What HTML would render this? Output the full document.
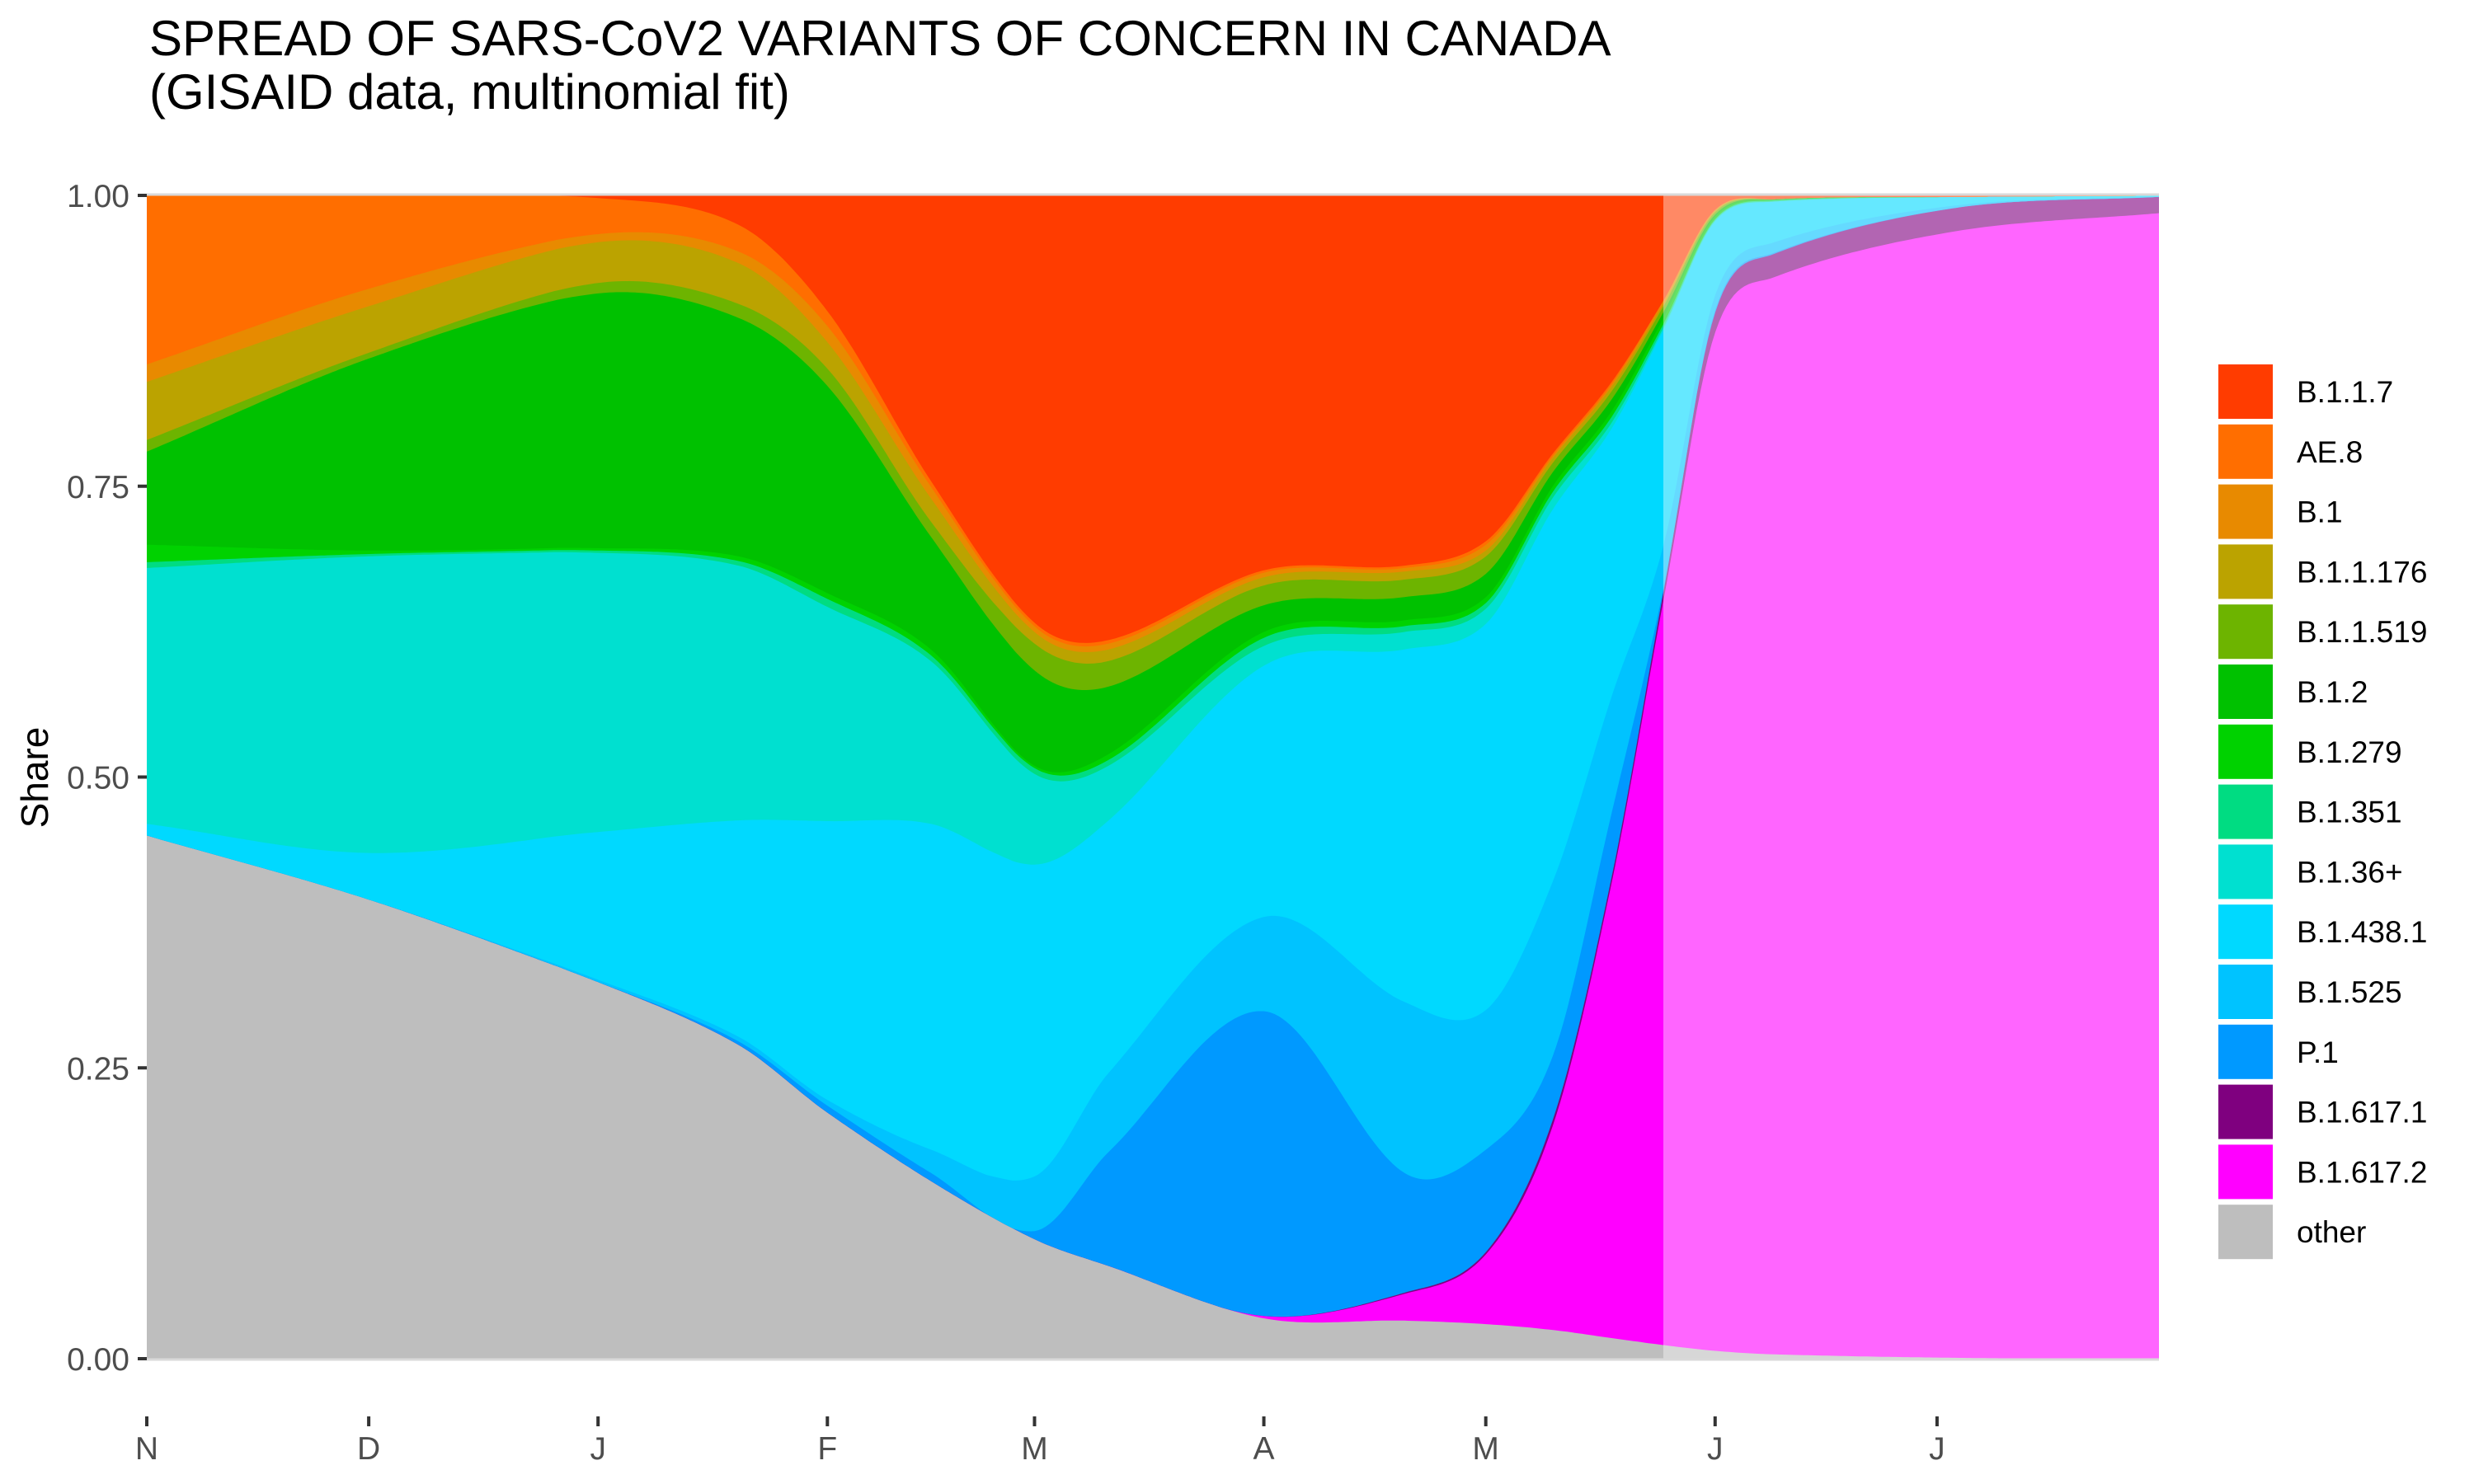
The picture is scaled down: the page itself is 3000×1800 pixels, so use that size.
<!DOCTYPE html>
<html><head><meta charset="utf-8">
<style>
html,body{margin:0;padding:0;background:#fff;}
svg{display:block;font-family:"Liberation Sans",Arial,sans-serif;}
</style></head>
<body>
<svg id="chart" width="3000" height="1800" viewBox="0 0 3000 1800" xmlns="http://www.w3.org/2000/svg">
  <rect x="0" y="0" width="3000" height="1800" fill="#fff"/>
  <text x="181" y="67" font-size="60" fill="#000">SPREAD OF SARS-CoV2 VARIANTS OF CONCERN IN CANADA</text>
  <text x="181" y="132" font-size="60" fill="#000">(GISAID data, multinomial fit)</text>
  <text transform="translate(58,943) rotate(-90)" text-anchor="middle" font-size="46" fill="#000">Share</text>
  <g id="plot"></g>
  <g id="axes"></g>
  <g id="legend"></g>
</svg>
<script>
// Data: days since Nov 1 2020 and per-variant shares (stack order bottom -> top)
const days = [0,30,61,80,92,106,120,130,151,170,181,190,198,205,212,220,245,272];
const other   = [.45,.395,.324,.27,.214,.153,.103,.08,.035,.033,.03,.025,.018,.012,.007,.004,.001,0];
const b16172  = [0,0,0,0,0,0,0,0,.002,.023,.06,.175,.392,.641,.876,.926,.969,.985];
const b16171  = [0,0,0,0,0,0,0,0,0,.001,.002,.005,.005,.007,.017,.02,.02,.014];
const p1      = [0,0,0,.003,.006,.007,.007,.098,.262,.103,.088,.055,.055,.003,.002,.001,0,0];
const b1525   = [0,0,.002,.004,.005,.02,.047,.068,.081,.147,.12,.15,.10,.037,.013,.009,.002,0];
const b14381  = [.01,.04,.127,.186,.242,.28,.268,.217,.216,.303,.332,.32,.23,.185,.063,.035,.007,.001];
const b136    = [.22,.255,.24,.219,.186,.14,.078,.047,.017,.015,.013,.01,.005,.002,.001,0,0,0];
const b1351   = [.005,.002,.002,.004,.007,.005,.005,.005,.007,.005,.005,.005,.005,.003,.001,.001,0,0];
const b1279   = [.015,.003,.002,.004,.005,.005,.002,.005,.005,.005,.005,.005,.005,.005,.002,0,0,0];
const b12     = [.08,.165,.219,.205,.18,.097,.082,.058,.023,.02,.02,.012,.01,.005,.002,.001,0,0];
const b11519  = [.01,.005,.009,.012,.015,.013,.023,.022,.017,.015,.015,.008,.007,.005,.002,0,0,0];
const b11176  = [.05,.04,.035,.035,.023,.02,.01,.01,.007,.007,.005,.004,.004,.002,.001,0,0,0];
const b1      = [.015,.015,.007,.01,.014,.01,.005,.005,.004,.003,.005,.002,.002,.003,.001,0,0,0];
const ae8     = [.145,.08,.031,.023,.013,.005,.003,.003,.002,.002,.003,.002,.002,0,0,0,0,0];
const b117    = [0,0,.002,.025,.1,.245,.367,.382,.322,.318,.297,.222,.16,.09,.012,.003,.001,0];
const seriesNames = ["other","B.1.617.2","B.1.617.1","P.1","B.1.525","B.1.438.1","B.1.36+","B.1.351","B.1.279","B.1.2","B.1.1.519","B.1.1.176","B.1","AE.8","B.1.1.7"];
const seriesVals = [other,b16172,b16171,p1,b1525,b14381,b136,b1351,b1279,b12,b11519,b11176,b1,ae8,b117];
const seriesColors = ["#bebebe","#ff00ff","#7f007f","#0099ff","#00c3ff","#00d9ff","#00e0d0","#00dc82","#00d200","#00c100","#6db400","#bba300","#e88a00","#ff6e00","#ff3c00"];
const yTicks = [0,0.25,0.5,0.75,1];
const yTickLabels = ["0.00","0.25","0.50","0.75","1.00"];
const xTickDays = [0,30,61,92,120,151,181,212,242];
const xTickLabels = ["N","D","J","F","M","A","M","J","J"];
const fadeDay = 205;
const legendOrder = ["B.1.1.7","AE.8","B.1","B.1.1.176","B.1.1.519","B.1.2","B.1.279","B.1.351","B.1.36+","B.1.438.1","B.1.525","P.1","B.1.617.1","B.1.617.2","other"];

const NS="http://www.w3.org/2000/svg";
const L=178,R=2618,T=237,B=1648, D0=0, D1=272;
const xs=d=>L+(d-D0)/(D1-D0)*(R-L);
const ys=v=>B-v*(B-T);

function interp(xv,yv,x){
  const n=xv.length;
  let i=0; while(i<n-2 && x>xv[i+1]) i++;
  const tan=j=>{ if(j===0) return (yv[1]-yv[0])/(xv[1]-xv[0]);
    if(j===n-1) return (yv[n-1]-yv[n-2])/(xv[n-1]-xv[n-2]);
    return (yv[j+1]-yv[j-1])/(xv[j+1]-xv[j-1]); };
  const h=xv[i+1]-xv[i], t=(x-xv[i])/h, t2=t*t, t3=t2*t;
  return (2*t3-3*t2+1)*yv[i]+(t3-2*t2+t)*h*tan(i)+(-2*t3+3*t2)*yv[i+1]+(t3-t2)*h*tan(i+1);
}
const plot=document.getElementById('plot');
const defs=document.createElementNS(NS,'defs');
defs.innerHTML=`<clipPath id="clipL"><rect x="${L}" y="${T}" width="${xs(fadeDay)-L}" height="${B-T}"/></clipPath><clipPath id="clipR"><rect x="${xs(fadeDay)}" y="${T}" width="${R-xs(fadeDay)}" height="${B-T}"/></clipPath>`;
plot.appendChild(defs);
const gL=document.createElementNS(NS,'g'); gL.setAttribute('clip-path','url(#clipL)');


const gR=document.createElementNS(NS,'g'); gR.setAttribute('clip-path','url(#clipR)'); gR.setAttribute('opacity','0.6');


plot.appendChild(gL); plot.appendChild(gR);

const sx=[]; for(let d=D0; d<=D1+0.001; d+=0.5) sx.push(d);
const sampled=seriesVals.map(v=>sx.map(d=>Math.max(0,interp(days,v,d))));
const totals=sx.map((d,j)=>sampled.reduce((a,s)=>a+s[j],0));
let cum=sx.map(()=>0);
seriesVals.forEach((vals,k)=>{
  const lo=cum.slice(); const hi=cum.map((c,j)=>c+sampled[k][j]/totals[j]); cum=hi;
  let d="M"+sx.map((x,j)=>xs(x).toFixed(1)+","+ys(hi[j]).toFixed(1)).join(" L");
  for(let j=sx.length-1;j>=0;j--) d+=" L"+xs(sx[j]).toFixed(1)+","+ys(lo[j]).toFixed(1);
  d+="Z";
  [gL,gR].forEach(g=>{
    const p=document.createElementNS(NS,'path');
    p.setAttribute('d',d); p.setAttribute('fill',seriesColors[k]);
    p.setAttribute('stroke',seriesColors[k]); p.setAttribute('stroke-width','0.8');
    
    
    g.appendChild(p);
  });
});
const axes=document.getElementById('axes');
[T,B].forEach(y=>{const l=document.createElementNS(NS,'line');
  l.setAttribute('x1',L);l.setAttribute('x2',R);l.setAttribute('y1',y+(y===T?-1:1));l.setAttribute('y2',y+(y===T?-1:1));
  l.setAttribute('stroke','#d9d9d9');l.setAttribute('stroke-width','3');
  
  
  axes.appendChild(l);});
yTicks.forEach((v,i)=>{
  const y=ys(v);
  const t=document.createElementNS(NS,'line');
  t.setAttribute('x1',167);t.setAttribute('x2',178);t.setAttribute('y1',y);t.setAttribute('y2',y);
  t.setAttribute('stroke','#333');t.setAttribute('stroke-width','4');
  
  
  axes.appendChild(t);
  const tx=document.createElementNS(NS,'text');
  tx.setAttribute('x',157);tx.setAttribute('y',y+14);tx.setAttribute('text-anchor','end');
  tx.setAttribute('font-size','39');tx.setAttribute('fill','#4d4d4d');tx.textContent=yTickLabels[i];
  
  
  axes.appendChild(tx);
});
xTickDays.forEach((d,i)=>{
  const x=xs(d);
  const t=document.createElementNS(NS,'line');
  t.setAttribute('x1',x);t.setAttribute('x2',x);t.setAttribute('y1',1718);t.setAttribute('y2',1730);
  t.setAttribute('stroke','#333');t.setAttribute('stroke-width','4');
  
  
  axes.appendChild(t);
  const tx=document.createElementNS(NS,'text');
  tx.setAttribute('x',x);tx.setAttribute('y',1770);tx.setAttribute('text-anchor','middle');
  tx.setAttribute('font-size','39');tx.setAttribute('fill','#4d4d4d');tx.textContent=xTickLabels[i];
  
  
  axes.appendChild(tx);
});
const leg=document.getElementById('legend');
legendOrder.forEach((name,i)=>{
  const k=seriesNames.indexOf(name);
  const y=442+i*72.8;
  const r=document.createElementNS(NS,'rect');
  r.setAttribute('x',2690);r.setAttribute('y',y);r.setAttribute('width',66);r.setAttribute('height',66);
  r.setAttribute('fill',seriesColors[k]);
  
  
  leg.appendChild(r);
  const tx=document.createElementNS(NS,'text');
  tx.setAttribute('x',2785);tx.setAttribute('y',y+46);tx.setAttribute('font-size','37');tx.setAttribute('fill','#000');
  tx.textContent=name;
  
  
  leg.appendChild(tx);
});
</script>
</body></html>
